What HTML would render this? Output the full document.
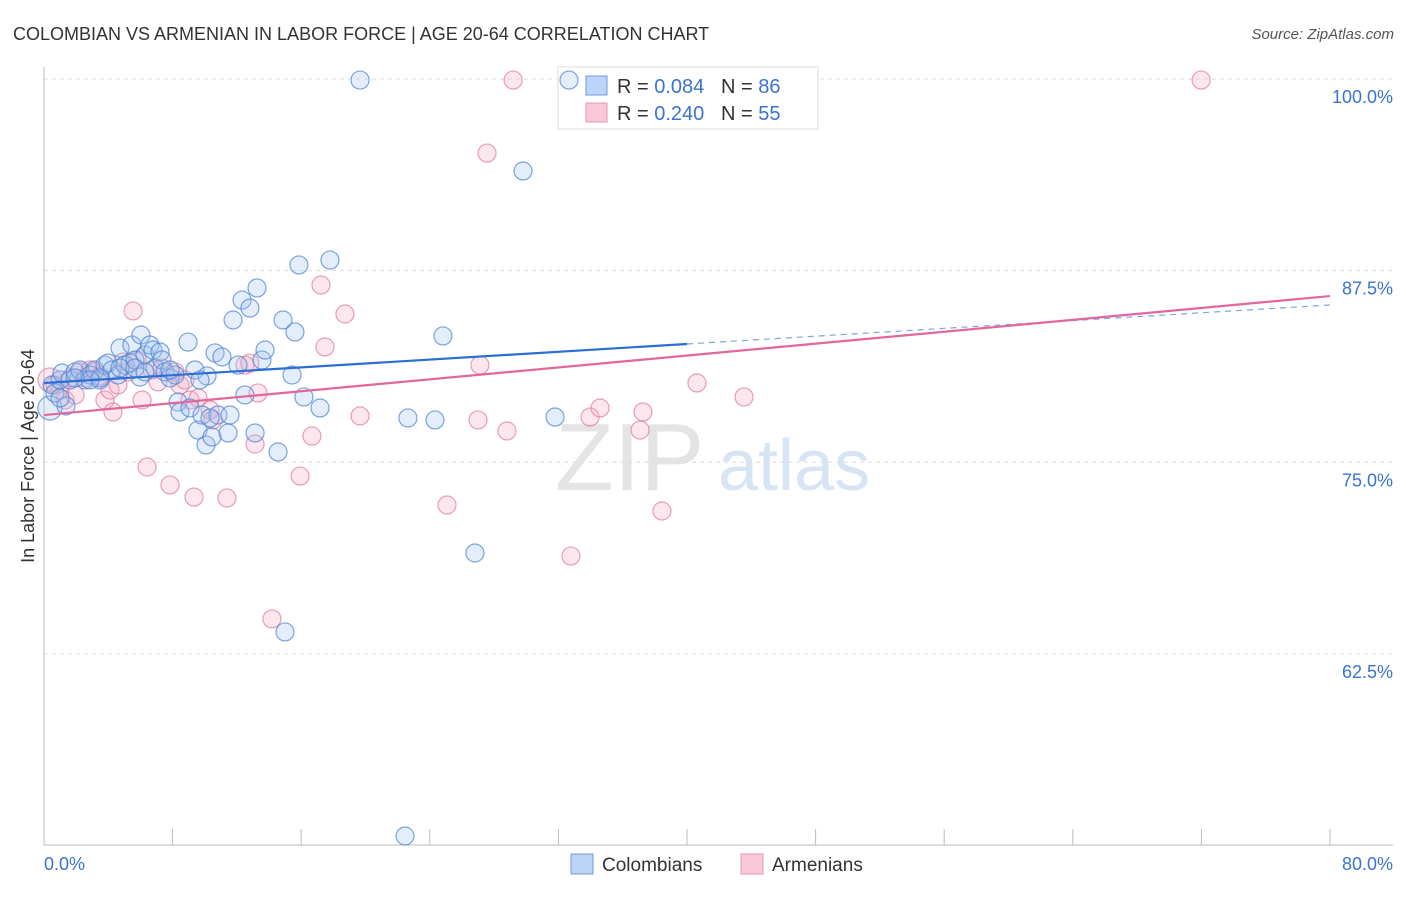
<!DOCTYPE html>
<html><head><meta charset="utf-8"><style>
body{margin:0;background:#fff;font-family:"Liberation Sans",sans-serif}
svg text{font-family:"Liberation Sans",sans-serif}
</style></head><body>
<svg id="chart" width="1406" height="892" xmlns="http://www.w3.org/2000/svg">
<text x="13" y="40" font-size="18" fill="#333">COLOMBIAN VS ARMENIAN IN LABOR FORCE | AGE 20-64 CORRELATION CHART</text>
<text x="1394" y="39" font-size="15" fill="#555" text-anchor="end" font-style="italic">Source: ZipAtlas.com</text>
<text x="555" y="490" font-size="96" fill="#e4e4e4" font-family="Liberation Serif">ZIP</text>
<text x="718" y="490" font-size="72" fill="#d6e4f4">atlas</text>
<g id="grid"></g><g id="axes"></g>
<g>
<rect x="558" y="67" width="260" height="62" fill="#fff" stroke="#ddd"/>
<rect x="586" y="76" width="21" height="19" fill="#bcd4f5" stroke="#6e9be0"/>
<rect x="586" y="103" width="21" height="19" fill="#f9c9d8" stroke="#e895b0"/>
<text x="617" y="93" font-size="20" fill="#333">R = <tspan fill="#3b73d0">0.084</tspan>&#160;&#160;&#160;N = <tspan fill="#3b73d0">86</tspan></text>
<text x="617" y="120" font-size="20" fill="#333">R = <tspan fill="#3b73d0">0.240</tspan>&#160;&#160;&#160;N = <tspan fill="#3b73d0">55</tspan></text>
</g>
<g id="pts"></g><g id="trend"></g>
<text transform="translate(34,456) rotate(-90)" font-size="18" fill="#333" text-anchor="middle">In Labor Force | Age 20-64</text>
<text x="44" y="870" font-size="18" fill="#3b73d0">0.0%</text>
<text x="1393" y="870" font-size="18" fill="#3b73d0" text-anchor="end">80.0%</text>
<g>
<rect x="571" y="854" width="22" height="20" fill="#bcd4f5" stroke="#6e9be0"/>
<text x="602" y="871" font-size="19" fill="#333">Colombians</text>
<rect x="741" y="854" width="22" height="20" fill="#f9c9d8" stroke="#e895b0"/>
<text x="772" y="871" font-size="19" fill="#333">Armenians</text>
</g>
</svg>
<script>
const yTicks=[100,87.5,75,62.5];
const yTickLabels=["100.0%","87.5%","75.0%","62.5%"];
const xTicks=[0,8,16,24,32,40,48,56,64,72,80];
const blueX=[0.37,0.5,0.68,1.0,1.12,1.37,1.62,1.93,2.24,2.55,2.86,3.17,3.48,3.79,3.98,4.23,4.6,4.73,5.04,5.35,5.47,5.66,5.97,6.03,6.28,6.59,6.78,6.91,7.22,7.34,7.53,7.84,8.15,8.34,8.46,8.96,9.08,9.39,9.58,9.83,10.08,10.14,10.45,10.64,10.82,11.07,11.45,11.76,12.07,12.32,12.5,12.81,13.13,13.25,13.56,13.75,14.56,14.87,15.43,15.61,15.86,16.17,17.17,17.79,19.66,22.46,22.64,24.32,24.82,26.81,29.8,31.79,14.99,11.57,7.84,10.33,3.48,4.73,1.0,2.86,5.66,6.28,1.93,9.7,32.66];
const blueY=[78.54,80.04,79.52,80.37,80.82,78.67,80.37,80.89,81.02,80.37,80.69,81.02,80.37,81.34,81.47,81.02,80.69,82.45,81.34,81.47,82.65,81.67,80.56,83.3,82.0,82.65,82.32,81.15,82.19,81.67,80.89,80.5,80.69,78.93,78.28,82.84,78.54,81.02,77.1,78.08,76.13,80.63,76.65,82.13,78.08,81.87,76.91,84.28,81.34,85.58,79.39,85.06,76.91,86.37,81.67,82.32,75.67,84.28,80.69,83.5,87.87,79.26,78.54,88.19,99.93,50.62,77.89,77.76,83.24,69.08,94.0,77.95,63.93,78.08,81.02,77.89,80.5,81.15,79.19,80.37,81.15,80.89,80.5,80.37,99.93];
const pinkX=[0.37,0.68,1.0,1.31,1.62,1.93,2.24,2.55,2.86,3.17,3.48,3.79,4.11,4.29,4.6,4.91,5.23,5.54,5.79,6.1,6.41,6.72,7.09,7.34,7.84,8.15,8.46,8.77,9.08,9.33,9.58,10.33,10.51,11.38,12.5,12.81,13.13,13.31,14.18,15.93,16.67,17.23,17.48,18.72,19.66,25.07,27.0,27.12,27.56,28.8,29.18,32.78,33.97,34.59,37.08,37.26,38.44,40.62,43.55,71.98];
const pinkY=[80.37,80.04,79.71,79.06,80.5,79.39,80.89,80.5,81.02,80.89,80.63,79.06,79.71,78.28,80.04,81.54,80.89,84.87,81.67,79.06,74.69,81.02,80.24,81.15,73.52,80.89,80.04,80.37,79.06,72.73,79.19,78.41,77.76,72.67,81.34,81.47,76.19,79.52,64.78,74.1,76.71,86.56,82.52,84.67,78.02,72.21,77.76,81.34,95.17,77.04,99.93,68.88,77.95,78.54,77.1,78.28,71.82,80.17,79.26,99.93];
const blueTrend=[80.17,85.26];
const pinkTrend=[78.08,85.84];
const sx=v=>44+v*1286/80;
const sy=v=>79+(100-v)*15.33;
const NS="http://www.w3.org/2000/svg";
function mk(tag,parent,attrs){const e=document.createElementNS(NS,tag);for(const k in attrs)e.setAttribute(k,attrs[k]);parent.appendChild(e);return e;}
const grid=document.getElementById('grid'),axes=document.getElementById('axes'),pts=document.getElementById('pts'),tr=document.getElementById('trend');
yTicks.forEach((t,i)=>{
 const l=mk('line',grid,{x1:44,x2:1393,y1:sy(t),y2:sy(t),stroke:'#ddd','stroke-dasharray':'4,4'});
 
 
 const tx=mk('text',grid,{x:1393,y:sy(t)+24,'font-size':18,fill:'#3b73d0','text-anchor':'end'});
 tx.textContent=yTickLabels[i];
 
 
});
const ax=mk('line',axes,{x1:44,x2:1393,y1:845,y2:845,stroke:'#bbb'});


const ay=mk('line',axes,{x1:44,x2:44,y1:67,y2:845,stroke:'#bbb'});


xTicks.forEach(t=>{
 const l=mk('line',axes,{x1:sx(t),x2:sx(t),y1:829,y2:845,stroke:'#bbb'});
 
 
});
function dots(X,Y,fill,stroke,name){
 X.forEach((x,i)=>{
  const c=mk('circle',pts,{cx:sx(x),cy:sy(Y[i]),r:i===0?12:9,fill:fill,'fill-opacity':0.3,stroke:stroke,'stroke-width':1.2,'stroke-opacity':0.75});
  
  
 });
}
dots(pinkX,pinkY,'#f5b0c8','#e07fa2','armenian-point');
dots(blueX,blueY,'#a4c4f0','#4f86d6','colombian-point');
const bAt=x=>blueTrend[0]+(blueTrend[1]-blueTrend[0])*x/80;
const b1=mk('line',tr,{x1:sx(0),y1:sy(bAt(0)),x2:sx(40),y2:sy(bAt(40)),stroke:'#2a6fd6','stroke-width':2.2});


const b2=mk('line',tr,{x1:sx(40),y1:sy(bAt(40)),x2:sx(80),y2:sy(bAt(80)),stroke:'#7aa6e6','stroke-width':1.2,'stroke-dasharray':'6,5'});


const p1=mk('line',tr,{x1:sx(0),y1:sy(pinkTrend[0]),x2:sx(80),y2:sy(pinkTrend[1]),stroke:'#e2679a','stroke-width':2.2});


</script>
</body></html>
